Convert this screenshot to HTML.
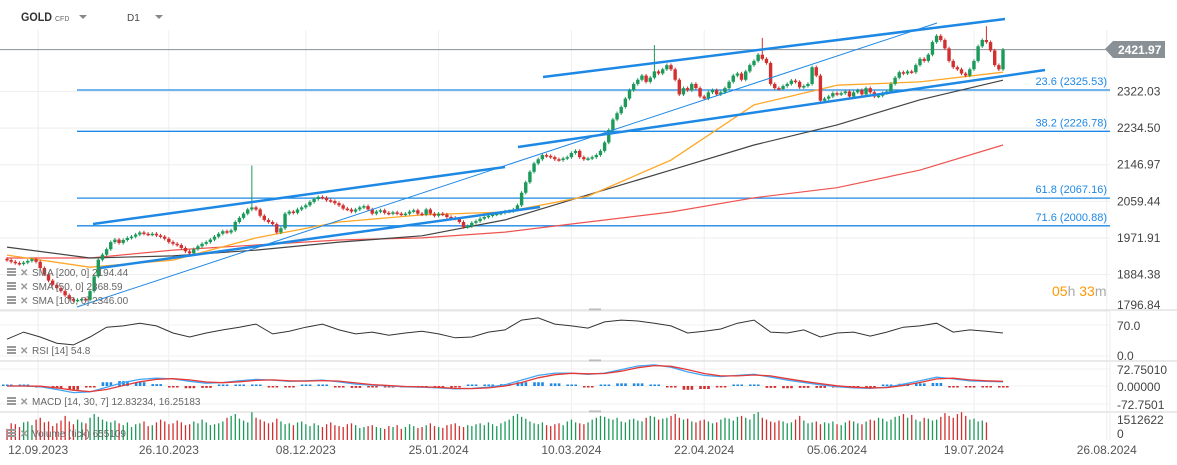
<!DOCTYPE html>
<html><head><meta charset="utf-8"><style>
html,body{margin:0;padding:0;background:#fff;}
svg{display:block;font-family:"Liberation Sans",sans-serif;}
</style></head><body>
<svg id="chart" width="1177" height="465" viewBox="0 0 1177 465" xmlns="http://www.w3.org/2000/svg">
<rect x="0" y="0" width="1177" height="465" fill="#fff"/>
<g id="grid"></g>
<g id="fib"></g>
<g id="smas"></g>
<g id="candles"></g>
<g id="trend"></g>
<g id="panels"></g>
<g id="axes"></g>
<g>
 <text x="21" y="21" font-size="12" font-weight="bold" fill="#333" textLength="31" lengthAdjust="spacingAndGlyphs">GOLD</text>
 <text x="55" y="21" font-size="7" fill="#666">CFD</text>
 <path d="M79 15 L87 15 L83 19 Z" fill="#888"/>
 <text x="127" y="21" font-size="10" fill="#444">D1</text>
 <path d="M155 15 L163 15 L159 19 Z" fill="#888"/>
</g>
</svg>
<script>
const closes=[1919,1915,1912,1910,1913,1917,1921,1915,1900,1885,1870,1860,1852,1845,1835,1826,1822,1824,1826,1824,1845,1880,1920,1932,1945,1962,1968,1960,1967,1972,1975,1980,1985,1982,1980,1982,1978,1975,1970,1962,1958,1955,1948,1940,1935,1945,1952,1958,1962,1968,1975,1982,1988,1985,1990,2010,2020,2030,2040,2045,2040,2025,2015,2010,2005,1985,1995,2030,2035,2032,2040,2045,2050,2058,2065,2070,2068,2062,2060,2055,2050,2042,2040,2035,2040,2045,2048,2040,2030,2035,2038,2032,2030,2033,2030,2028,2030,2035,2038,2030,2028,2040,2030,2025,2030,2028,2022,2020,2018,2010,1998,2000,2008,2012,2018,2022,2025,2028,2030,2032,2035,2036,2040,2050,2080,2105,2130,2150,2160,2170,2168,2165,2160,2158,2162,2165,2175,2180,2165,2160,2162,2165,2170,2180,2200,2230,2255,2270,2285,2305,2325,2340,2350,2360,2345,2355,2370,2365,2375,2385,2375,2350,2315,2330,2325,2340,2330,2310,2305,2320,2325,2315,2320,2330,2345,2360,2365,2350,2370,2385,2395,2410,2400,2390,2340,2330,2328,2335,2340,2348,2345,2332,2335,2340,2380,2360,2300,2305,2310,2318,2315,2318,2322,2310,2320,2325,2315,2330,2320,2310,2312,2318,2322,2340,2355,2368,2365,2370,2368,2385,2400,2395,2410,2440,2455,2445,2425,2395,2380,2375,2365,2360,2375,2395,2430,2445,2440,2420,2385,2375,2422];
const highSpikes={59:2145,156:2433,182:2450,236:2478};
const smaIdx=[0,20,40,60,80,100,120,140,160,180,200,220,240];
const sma200=[1924,1924,1943,1955,1967,1972,1986,2010,2034,2068,2092,2134,2194];
const sma100=[1950,1924,1929,1943,1962,1977,2015,2075,2134,2194,2242,2302,2349];
const sma50=[1931,1902,1919,1972,2010,2027,2034,2072,2158,2290,2337,2345,2368];
const rsi=[38,54,43,29,25,43,65,68,74,68,52,43,52,59,65,72,50,56,65,72,59,50,54,47,52,56,50,41,43,54,59,81,86,72,68,63,77,81,79,74,68,52,56,61,74,81,54,52,59,43,52,54,45,54,65,68,74,54,59,56,52];
const macdLine=[0,0,-3,-15,-28,-25,-5,15,28,33,30,20,12,15,22,28,25,20,22,25,18,8,4,0,-4,-5,-8,-12,-10,-5,5,25,45,55,55,50,55,70,85,90,80,60,45,40,45,50,38,25,15,5,-3,-8,-10,-5,8,22,38,30,22,20,18];
const macdSignal=[0,0,-1,-8,-18,-24,-15,2,18,28,31,26,17,14,18,24,26,22,21,23,21,13,6,2,-2,-4,-6,-10,-11,-8,0,15,35,48,54,52,53,63,78,87,84,70,53,43,43,47,43,31,20,10,1,-5,-8,-7,2,15,30,33,26,22,20];
const volume=[60,90,85,70,95,100,80,110,120,95,100,75,90,105,130,100,85,110,95,90,120,140,125,110,100,95,105,90,80,95,70,85,90,100,75,80,95,110,100,85,90,105,95,80,85,100,90,110,95,80,85,90,100,120,130,140,115,105,95,150,120,110,100,90,95,115,100,85,90,80,95,100,85,75,90,80,70,85,95,80,75,70,85,90,80,65,70,75,80,70,65,60,75,70,80,60,70,85,75,65,70,80,90,75,70,65,80,85,90,75,70,80,75,85,90,80,95,85,75,90,100,110,130,140,125,115,100,90,85,95,80,75,85,90,80,100,110,95,90,85,95,110,120,130,125,115,110,120,100,95,110,115,105,100,120,130,125,110,115,120,130,140,120,110,115,100,95,105,110,100,90,95,110,120,115,105,125,130,120,110,140,150,120,110,100,95,105,100,90,95,110,130,105,90,95,100,85,95,90,100,85,80,95,105,100,90,85,100,110,105,120,115,100,110,125,130,140,120,135,110,100,120,115,105,110,125,145,130,120,140,150,130,110,115,100,105,95];
const priceTicks=[2322.03,2234.50,2146.97,2059.44,1971.91,1884.38,1796.84];
const fibLevels=[23.6,38.2,61.8,71.6];
const fibPrices=[2325.53,2226.78,2067.16,2000.88];
const dateLabels=["12.09.2023","26.10.2023","08.12.2023","25.01.2024","10.03.2024","22.04.2024","05.06.2024","19.07.2024","26.08.2024"];
const dateIdx=[7.5,39,72,104,136,168,200,233,265];
const lastPrice=2421.97;

const NS="http://www.w3.org/2000/svg";
function X(i){return 7+4.15*i;}
function Y(p){return 90+(2325.53-p)/2.39;}
function rsiY(v){return 356-v*0.443;}
function macdY(v){return 386-v*0.235;}
function mk(tag,attrs,parent,text){const e=document.createElementNS(NS,tag);for(const k in attrs)e.setAttribute(k,attrs[k]);if(text!==undefined)e.textContent=text;parent.appendChild(e);return e;}
const grid=document.getElementById('grid'),fib=document.getElementById('fib'),smas=document.getElementById('smas'),cg=document.getElementById('candles'),tr=document.getElementById('trend'),pn=document.getElementById('panels'),ax=document.getElementById('axes');

dateIdx.forEach(function(d){const l=mk('line',{x1:X(d),x2:X(d),y1:30,y2:440,stroke:'#eeeeee'},grid);

});
priceTicks.forEach(function(p){const l=mk('line',{x1:0,x2:1110,y1:Y(p),y2:Y(p),stroke:'#eeeeee'},grid);

});
[325,356,369,386,404].forEach(function(y){mk('line',{x1:0,x2:1110,y1:y,y2:y,stroke:'#f2f2f2'},grid);});

fibPrices.forEach(function(p,k){const y=Y(p);
const l=mk('line',{x1:77,x2:1110,y1:y,y2:y,stroke:'#1e88e5','stroke-width':1.3},fib);


const t=mk('text',{x:1107,y:y-5,'text-anchor':'end','font-size':11,fill:'#1e88e5'},fib,fibLevels[k].toFixed(1)+' ('+p.toFixed(2)+')');

});
const lp=mk('line',{x1:0,x2:1110,y1:Y(lastPrice),y2:Y(lastPrice),stroke:'#8a9196','stroke-width':1},fib);



function smaPath(arr,color,name,w){const d=arr.map(function(v,k){return (k?'L':'M')+X(smaIdx[k]).toFixed(1)+' '+Y(v).toFixed(1);}).join(' ');
const p=mk('path',{d:d,fill:'none',stroke:color,'stroke-width':w,'stroke-linejoin':'round'},smas);

}
smaPath(sma200,'#ef5350','sma-200-line',1.2);
smaPath(sma100,'#444','sma-100-line',1.2);
smaPath(sma50,'#ffa726','sma-50-line',1.3);

closes.forEach(function(c,i){const o=i?closes[i-1]:1922;const hi=highSpikes[i]||Math.max(o,c)+4;const lo=Math.min(o,c)-4;
const up=c>=o;const col=up?'#1b9a5a':'#d32f2f';const x=X(i);
const g=mk('g',{},cg);


mk('line',{x1:x,x2:x,y1:Y(hi),y2:Y(lo),stroke:col,'stroke-width':1},g);
const top=Y(Math.max(o,c)),bot=Y(Math.min(o,c));
mk('rect',{x:x-1.7,y:top,width:3.4,height:Math.max(1.5,bot-top),fill:col},g);});

[[93,224,505,167,2.5],[100,268,540,207,2.5],[518,147,1045,70,2.5],[543,77,1005,19,2.5],[77,307,937,23,1]].forEach(function(t){
const l=mk('line',{x1:t[0],y1:t[1],x2:t[2],y2:t[3],stroke:'#1e88e5','stroke-width':t[4]},tr);

});

[310,361,412].forEach(function(y){const l=mk('line',{x1:0,x2:1177,y1:y,y2:y,stroke:'#d6d6d6'},pn);


mk('rect',{x:589,y:y-1.5,width:12,height:2,fill:'#bbb'},pn);});
mk('line',{x1:1110,x2:1110,y1:310,y2:440,stroke:'#eee'},pn);

const rd=rsi.map(function(v,k){return (k?'L':'M')+X(k*4).toFixed(1)+' '+rsiY(v).toFixed(1);}).join(' ');
const rp=mk('path',{d:rd,fill:'none',stroke:'#333','stroke-width':1},pn);



macdLine.forEach(function(v,k){const h=v-macdSignal[k];const col=h>=0?'#1e88e5':'#d32f2f';
[-5,-1,3].forEach(function(off){const bh=Math.max(1.5,Math.abs(h)*0.235*1.6);
const b=mk('rect',{x:X(k*4)+off,y:h>=0?macdY(0)-bh:macdY(0),width:2.6,height:bh,fill:col},pn);

});});
function mline(arr,color,name){const d=arr.map(function(v,k){return (k?'L':'M')+X(k*4).toFixed(1)+' '+macdY(v).toFixed(1);}).join(' ');
const p=mk('path',{d:d,fill:'none',stroke:color,'stroke-width':1.3},pn);

}
mline(macdLine,'#42a5f5','macd-line');
mline(macdSignal,'#e53935','macd-signal-line');

volume.slice(0,closes.length).forEach(function(v,i){const o=i?closes[i-1]:1922;const col=closes[i]>=o?'#1b9a5a':'#d32f2f';const h=v/151*28;
const b=mk('rect',{x:X(i)-0.6,y:440-h,width:1.3,height:h,fill:col},pn);

});

function legend(y,txt,name){const g=mk('g',{},pn);


mk('rect',{x:7,y:y-8,width:9,height:2,fill:'#999'},g);mk('rect',{x:7,y:y-5,width:9,height:2,fill:'#999'},g);mk('rect',{x:7,y:y-2,width:9,height:2,fill:'#999'},g);
mk('text',{x:20,y:y,'font-size':10,fill:'#999','font-weight':'bold'},g,'✕');
mk('text',{x:32,y:y,'font-size':10,fill:'#666'},g,txt);}
legend(276,'SMA [200, 0] 2194.44','legend-sma-200');
legend(290,'SMA [50, 0] 2368.59','legend-sma-50');
legend(304,'SMA [100, 0] 2346.00','legend-sma-100');
legend(354,'RSI [14] 54.8','legend-rsi');
legend(405,'MACD [14, 30, 7] 12.83234, 16.25183','legend-macd');
legend(437,'Volume (tick) 655109','legend-volume');

priceTicks.forEach(function(p){let y=Y(p)+4;if(y>309)y=309;
const t=mk('text',{x:1117,y:y,'font-size':12,fill:'#444'},ax,p.toFixed(2));

});
[['70.0',330],['0.0',360],['72.75010',374],['0.00000',391],['-72.7501',409],['1512622',424],['0',438]].forEach(function(a){
const t=mk('text',{x:1117,y:a[1],'font-size':12,fill:'#444'},ax,a[0]);

});
const tag=mk('path',{d:'M1105 49 L1113 41 L1165 41 L1165 58 L1113 58 Z',fill:'#8a9196'},ax);


mk('text',{x:1118,y:54,'font-size':12,'font-weight':'bold',fill:'#fff'},ax,lastPrice.toFixed(2));
const cd=mk('text',{x:1052,y:296,'font-size':14},ax);


mk('tspan',{fill:'#ff9800'},cd,'05');mk('tspan',{fill:'#aaa'},cd,'h ');mk('tspan',{fill:'#ff9800'},cd,'33');mk('tspan',{fill:'#aaa'},cd,'m');
dateLabels.forEach(function(d,k){const t=mk('text',{x:X(dateIdx[k]),y:454,'font-size':12,fill:'#555','text-anchor':'middle'},ax,d);

});
</script>
</body></html>
